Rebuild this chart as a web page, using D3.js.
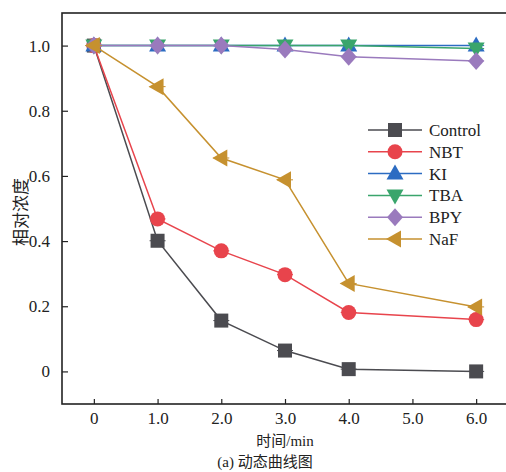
<!DOCTYPE html>
<html>
<head>
<meta charset="utf-8">
<script src="https://cdn.jsdelivr.net/npm/d3@7"></script>
<style>
  body { margin: 0; background: #fff; }
</style>
</head>
<body>
<div id="chart"></div>
<script>
var svgWidth = 506;
var svgHeight = 472;
var serif = "'Liberation Serif', 'DejaVu Serif', serif";
var cjk = "'Noto Sans CJK SC', sans-serif";

var margin = { top: 13, right: -2, bottom: 68, left: 62 };
var width = svgWidth - margin.left - margin.right;
var height = svgHeight - margin.top - margin.bottom;

// data
var times = [0, 1, 2, 3, 4, 6];
var xTicks = [0, 1, 2, 3, 4, 5, 6];
var yTicks = [0, 0.2, 0.4, 0.6, 0.8, 1.0];
var names = ["Control", "NBT", "KI", "TBA", "BPY", "NaF"];
var control = [1.0, 0.401, 0.156, 0.064, 0.007, 0.0];
var nbt = [1.0, 0.468, 0.370, 0.297, 0.181, 0.159];
var ki = [1.0, 1.0, 1.0, 1.0, 1.0, 1.0];
var tba = [1.0, 1.0, 1.0, 1.0, 1.0, 0.991];
var bpy = [1.0, 1.0, 1.0, 0.988, 0.966, 0.953];
var naf = [1.0, 0.874, 0.655, 0.588, 0.270, 0.198];
var colors = ["#4b4b50", "#e8444c", "#2c6cc2", "#3aa56c", "#9a7abd", "#c6912f"];
var symbols = ["square", "circle", "up", "down", "diamond", "left"];

var series = [control, nbt, ki, tba, bpy, naf];

var svg = d3.select("#chart")
    .append("svg")
    .attr("width", svgWidth)
    .attr("height", svgHeight);

var chartGroup = svg.append("g")
    .attr("transform", `translate(${margin.left}, ${margin.top})`);

var x = d3.scaleLinear().domain([-0.5, 6.5]).range([0, width]);
var y = d3.scaleLinear().domain([-0.1, 1.1]).range([height, 0]);

// axes, ticks pointing inward
var bottomAxis = d3.axisBottom(x).tickValues(xTicks)
    .tickFormat(d => d === 0 ? "0" : d3.format(".1f")(d))
    .tickSizeInner(-5).tickSizeOuter(0).tickPadding(8);
var leftAxis = d3.axisLeft(y).tickValues(yTicks)
    .tickFormat(d => d === 0 ? "0" : d3.format(".1f")(d))
    .tickSizeInner(-6).tickSizeOuter(0).tickPadding(12);

var gx = chartGroup.append("g")
    .attr("transform", `translate(0, ${height})`)
    .call(bottomAxis);
var gy = chartGroup.append("g").call(leftAxis);

[gx, gy].forEach(function (g) {
    g.select(".domain").remove();
    g.selectAll("line").attr("stroke", "#222").attr("stroke-width", 1.2);
    g.selectAll("text")
        .style("font-family", serif)
        .style("font-size", "17px")
        .attr("fill", "#222");
});

// frame
chartGroup.append("rect")
    .attr("x", 0).attr("y", 0)
    .attr("width", width).attr("height", height)
    .attr("fill", "none")
    .attr("stroke", "#222")
    .attr("stroke-width", 1.6);

function drawMarker(g, kind, cx, cy, color) {
    if (kind === "square") {
        g.append("rect").attr("x", cx - 7).attr("y", cy - 7)
            .attr("width", 14).attr("height", 14).attr("fill", color);
    } else if (kind === "circle") {
        g.append("circle").attr("cx", cx).attr("cy", cy).attr("r", 7.5).attr("fill", color);
    } else {
        var pts;
        if (kind === "up") pts = [[0, -9], [8.5, 6], [-8.5, 6]];
        if (kind === "down") pts = [[0, 9], [8.5, -6], [-8.5, -6]];
        if (kind === "left") pts = [[-9, 0], [6, -8.5], [6, 8.5]];
        if (kind === "diamond") pts = [[0, -9], [8, 0], [0, 9], [-8, 0]];
        g.append("polygon")
            .attr("points", pts.map(p => (cx + p[0]) + "," + (cy + p[1])).join(" "))
            .attr("fill", color);
    }
}

var line = d3.line()
    .x((d, i) => x(times[i]))
    .y(d => y(d));

series.forEach(function (vals, k) {
    var g = chartGroup.append("g");
    g.append("path")
        .datum(vals)
        .attr("d", line)
        .attr("fill", "none")
        .attr("stroke", colors[k])
        .attr("stroke-width", 1.5);
    vals.forEach(function (v, i) {
        // small horizontal error caps
        g.append("line")
            .attr("x1", x(times[i]) - 8).attr("x2", x(times[i]) + 8)
            .attr("y1", y(v)).attr("y2", y(v))
            .attr("stroke", colors[k]).attr("stroke-width", 1);
        drawMarker(g, symbols[k], x(times[i]), y(v), colors[k]);
    });
});

// legend
var legend = chartGroup.append("g")
    .attr("transform", `translate(${368 - margin.left}, ${130 - margin.top})`);
names.forEach(function (n, k) {
    var row = legend.append("g").attr("transform", `translate(0, ${k * 21.8})`);
    row.append("line")
        .attr("x1", 0).attr("x2", 54).attr("y1", 0).attr("y2", 0)
        .attr("stroke", colors[k]).attr("stroke-width", 1.5);
    drawMarker(row, symbols[k], 27, 0, colors[k]);
    row.append("text")
        .attr("x", 61).attr("y", 0)
        .attr("dy", "0.35em")
        .style("font-family", serif)
        .style("font-size", "17px")
        .attr("fill", "#222")
        .text(n);
});

// axis labels
svg.append("text")
    .attr("transform", `translate(27, 212) rotate(-90)`)
    .attr("text-anchor", "middle")
    .style("font-family", cjk)
    .style("font-size", "17px")
    .attr("fill", "#222")
    .text("相对浓度");

var xl = svg.append("text")
    .attr("x", 285).attr("y", 446)
    .attr("text-anchor", "middle")
    .style("font-size", "15px")
    .attr("fill", "#222");
xl.append("tspan").style("font-family", cjk).text("时间");
xl.append("tspan").style("font-family", serif).text("/min");

var cap = svg.append("text")
    .attr("x", 265).attr("y", 467)
    .attr("text-anchor", "middle")
    .style("font-size", "15px")
    .attr("fill", "#222");
cap.append("tspan").style("font-family", serif).text("(a) ");
cap.append("tspan").style("font-family", cjk).text("动态曲线图");
</script>
</body>
</html>
